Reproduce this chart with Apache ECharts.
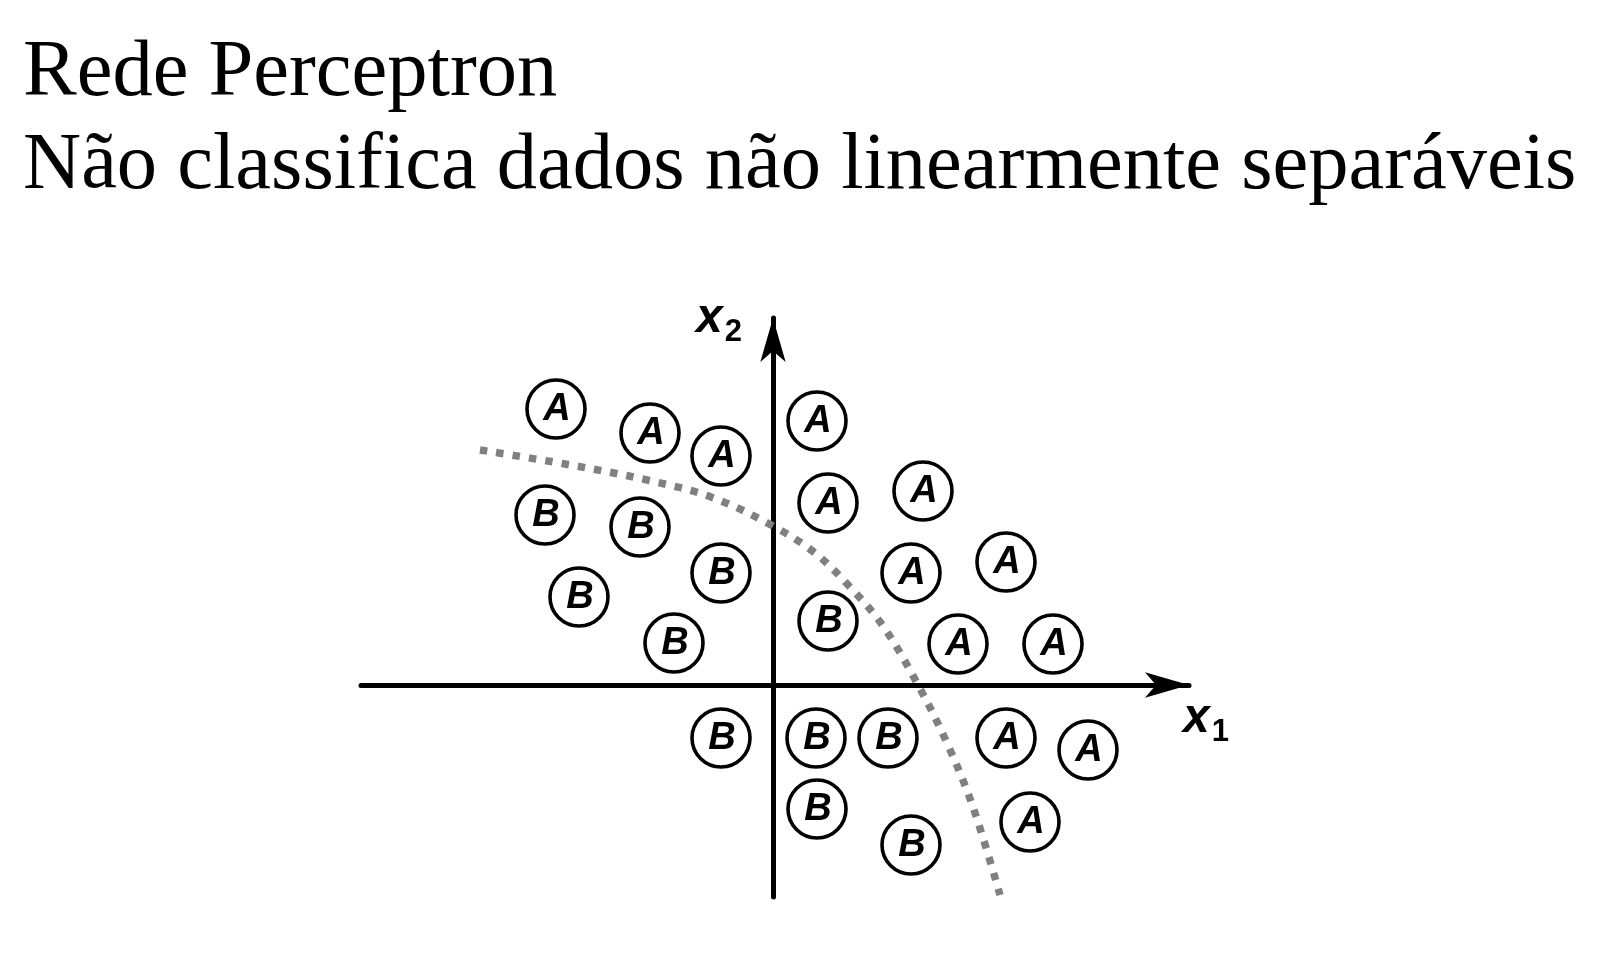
<!DOCTYPE html>
<html>
<head>
<meta charset="utf-8">
<script src="https://cdn.jsdelivr.net/npm/echarts@6/dist/echarts.min.js"></script>
<style>
html,body{margin:0;padding:0;background:#fff;}
#chart{width:1620px;height:966px;}
</style>
</head>
<body>
<div id="chart"></div>
<script>
// Title lines
const titleLines = ['Rede Perceptron', 'Não classifica dados não linearmente separáveis'];

// Class A points [x1, x2]
const classA = [
  [-2.17, 2.76], [-1.23, 2.52], [-0.52, 2.29], [0.44, 2.64], [0.55, 1.82],
  [1.50, 1.94], [1.38, 1.12], [2.33, 1.23], [1.85, 0.41], [2.80, 0.41],
  [2.33, -0.53], [3.15, -0.65], [2.57, -1.37]
];
// Class B points [x1, x2]
const classB = [
  [-2.28, 1.70], [-1.33, 1.58], [-0.52, 1.12], [-1.94, 0.88], [-0.99, 0.42],
  [0.55, 0.64], [-0.52, -0.53], [0.43, -0.53], [1.15, -0.53], [0.44, -1.24],
  [1.38, -1.60]
];
// Non-linear decision boundary (dotted curve)
const boundary = [
  [-2.93, 2.35], [-2.08, 2.21], [-1.26, 2.05], [-0.62, 1.88], [0, 1.59],
  [0.42, 1.32], [0.77, 0.98], [1.10, 0.59], [1.44, 0.02], [1.74, -0.58],
  [2.00, -1.22], [2.27, -2.10]
];
// Axis ranges
const xRange = [-4.12, 4.16];
const yRange = [-2.12, 3.67];

const chart = echarts.init(document.getElementById('chart'), null, {renderer: 'canvas'});

const letterLabel = (letter) => ({
  show: true,
  position: 'inside',
  formatter: letter,
  fontFamily: 'Liberation Sans',
  fontStyle: 'italic',
  fontWeight: 'bold',
  fontSize: 38,
  color: '#000',
  offset: [1, 1]
});

const circleStyle = {color: '#fff', borderColor: '#000', borderWidth: 3.6, opacity: 1};

const axisNameRich = {
  x: {fontFamily: 'Liberation Sans', fontStyle: 'italic', fontWeight: 'bold', fontSize: 48, color: '#000',
      lineHeight: 59, verticalAlign: 'middle'},
  s: {fontFamily: 'Liberation Sans', fontWeight: 'bold', fontSize: 31, color: '#000',
      lineHeight: 22, verticalAlign: 'bottom', padding: [0, 0, 0, 2]}
};

chart.setOption({
  backgroundColor: '#fff',
  animation: false,
  title: {
    text: titleLines.join('\n'),
    left: 18,
    top: 22,
    textStyle: {
      fontFamily: 'Liberation Serif',
      fontSize: 80.5,
      fontWeight: 'normal',
      color: '#000',
      lineHeight: 93
    }
  },
  grid: {left: 361, top: 318, width: 828, height: 579, containLabel: false},
  xAxis: {
    type: 'value', min: xRange[0], max: xRange[1],
    splitLine: {show: false}, axisTick: {show: false}, axisLabel: {show: false},
    axisLine: {show: true, onZero: true, symbol: ['none', 'arrow'], symbolSize: [19, 44],
      lineStyle: {color: '#000', width: 5}},
    name: '{x|x}{s|1}',
    nameLocation: 'end',
    nameGap: -6,
    nameTextStyle: {align: 'left', verticalAlign: 'top', padding: [4, 0, 0, 0], rich: axisNameRich}
  },
  yAxis: {
    type: 'value', min: yRange[0], max: yRange[1],
    splitLine: {show: false}, axisTick: {show: false}, axisLabel: {show: false},
    axisLine: {show: true, onZero: true, symbol: ['none', 'arrow'], symbolSize: [19, 44],
      lineStyle: {color: '#000', width: 5}},
    name: '{x|x}{s|2}',
    nameLocation: 'end',
    nameGap: -30,
    nameTextStyle: {align: 'right', verticalAlign: 'bottom', padding: [0, 31, 0, 0], rich: axisNameRich}
  },
  series: [
    {
      type: 'line', data: boundary, smooth: 0.35, symbol: 'none', z: 3,
      lineStyle: {color: '#808080', width: 7.5, type: [7.5, 9], cap: 'butt'}
    },
    {
      type: 'scatter', data: classA, symbol: 'circle', symbolSize: 58, z: 4,
      itemStyle: circleStyle, label: letterLabel('A')
    },
    {
      type: 'scatter', data: classB, symbol: 'circle', symbolSize: 58, z: 4,
      itemStyle: circleStyle, label: letterLabel('B')
    }
  ]
});
</script>
</body>
</html>
